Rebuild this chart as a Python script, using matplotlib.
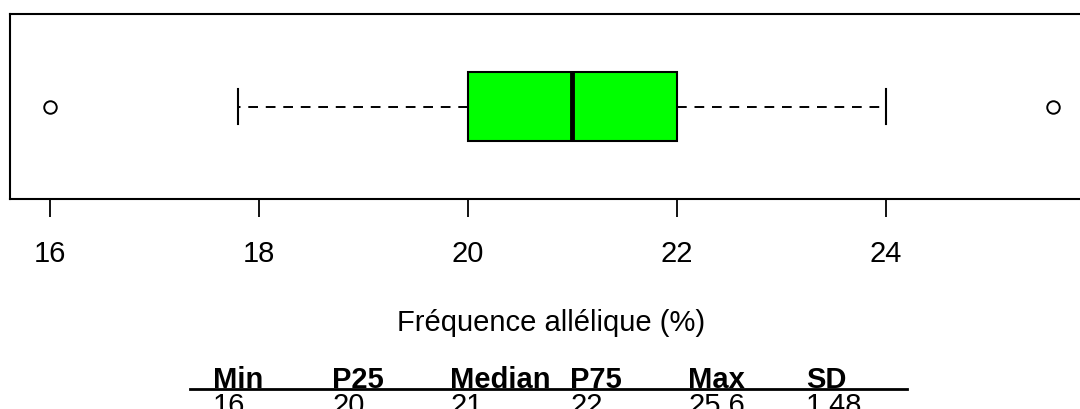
import matplotlib
matplotlib.use("Agg")
import matplotlib.pyplot as plt

plt.rcParams['font.family'] = ['Liberation Sans', 'DejaVu Sans']

# box statistics
q1 = 20
median = 21
q3 = 22
whisker_low = 17.8
whisker_high = 24
outliers = [16, 25.6]

tick_values = [16, 18, 20, 22, 24]

# summary table under the plot
stat_names = ["Min", "P25", "Median", "P75", "Max", "SD"]
stat_values = ["16", "20", "21", "22", "25.6", "1.48"]
stat_x_px = [213, 332, 450, 570, 688, 806]

W, H = 1080, 410
fig = plt.figure(figsize=(W / 100, H / 100), dpi=100)

# axes runs off the right edge like the original
ax = fig.add_axes([10 / W, 210 / H, 1083 / W, 185 / H])

stats = [{
    "med": median, "q1": q1, "q3": q3,
    "whislo": whisker_low, "whishi": whisker_high,
    "fliers": outliers,
}]
ax.bxp(stats, positions=[1], widths=0.373, capwidths=0.184, vert=False,
       patch_artist=True, showfliers=True,
       boxprops=dict(facecolor="#00ff00", edgecolor="black", linewidth=1.5),
       medianprops=dict(color="black", linewidth=3.5),
       whiskerprops=dict(color="black", linewidth=1.4, linestyle=(0, (5, 4))),
       capprops=dict(color="black", linewidth=1.5),
       flierprops=dict(marker="o", markersize=9, markerfacecolor="none",
                       markeredgecolor="black", markeredgewidth=1.4))

ax.set_xlim(15.616, 25.984)
ax.set_ylim(0.5, 1.5)
ax.set_yticks([])
ax.set_xticks(tick_values)
ax.set_xticklabels([str(t) for t in tick_values])
ax.tick_params(axis="x", length=13, width=1.3, pad=16, labelsize=21)
for side in ["left", "right", "top", "bottom"]:
    ax.spines[side].set_linewidth(1.5)

ax.set_xlabel("Fréquence allélique (%)", fontsize=21)
ax.xaxis.set_label_coords(0.5, -123 / 185)
ax.xaxis.label.set_verticalalignment("center")

# table of summary stats
for name, val, xp in zip(stat_names, stat_values, stat_x_px):
    fig.text(xp / W, 22 / H, name, fontsize=21, fontweight="bold",
             ha="left", va="baseline")
    fig.text(xp / W, 18 / H, val, fontsize=21, ha="left", va="top")

fig.add_artist(plt.Line2D([190 / W, 907 / W], [20 / H, 20 / H],
                          color="black", linewidth=2))

fig.savefig("out.png", dpi=100)
